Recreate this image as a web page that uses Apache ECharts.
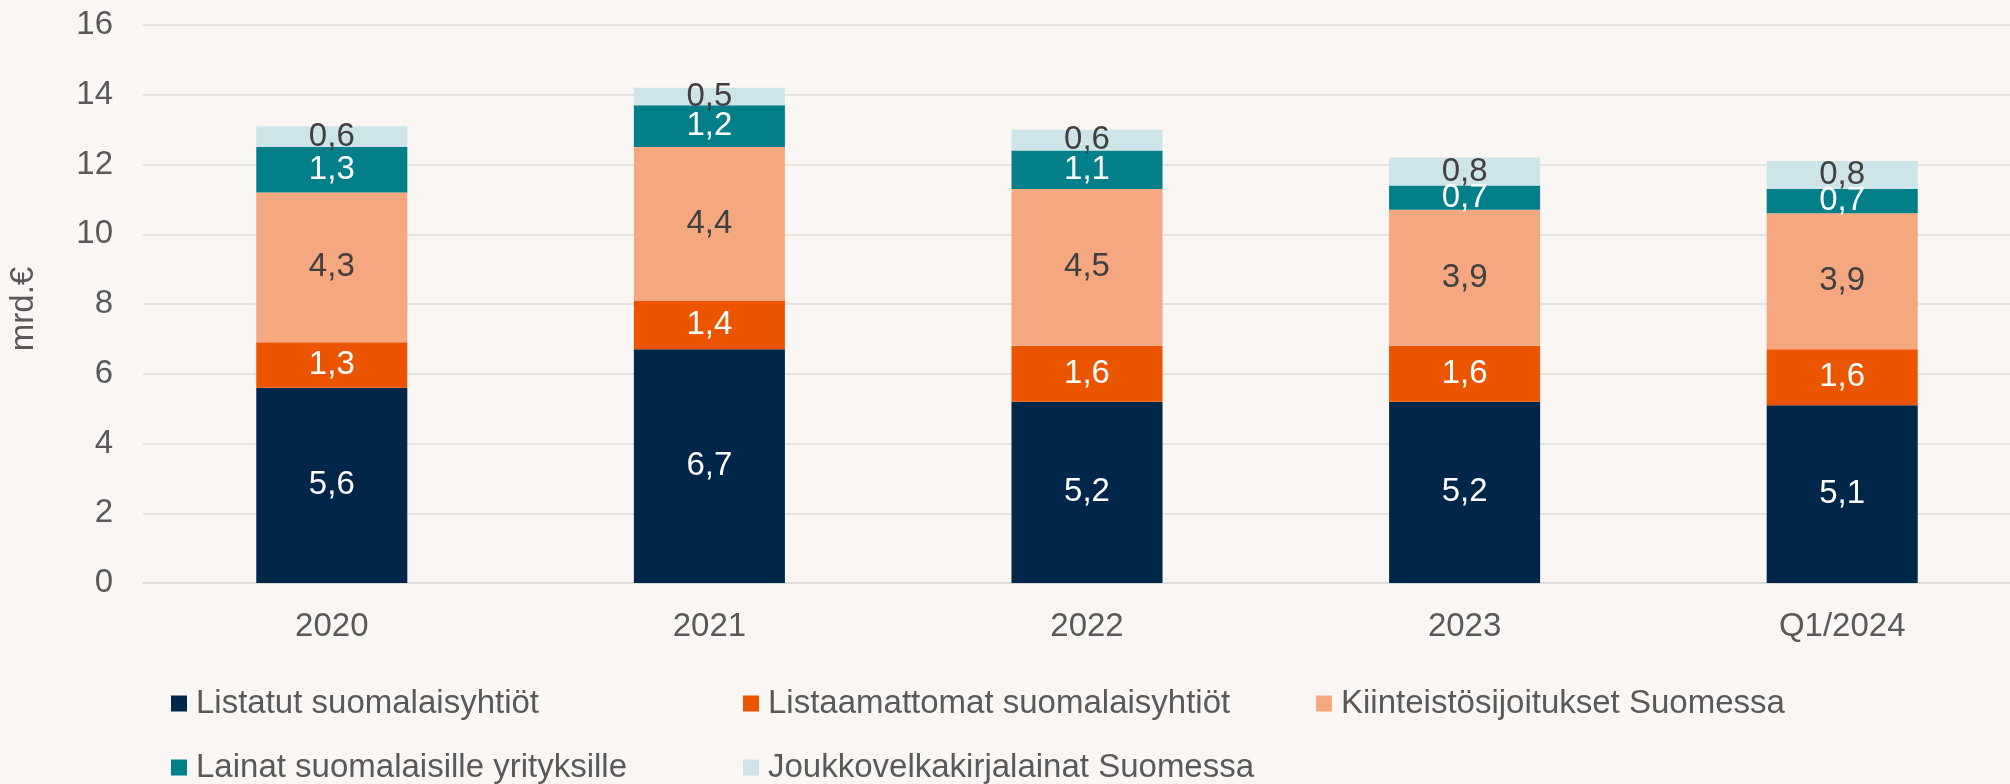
<!DOCTYPE html>
<html>
<head>
<meta charset="utf-8">
<script src="https://cdn.jsdelivr.net/npm/echarts@6/dist/echarts.min.js"></script>
<style>
  html, body { margin: 0; padding: 0; background: #FAF6F3; }
  #chart { width: 2010px; height: 784px; }
</style>
</head>
<body>
<div id="chart"></div>
<script>
// Categories (years) and the five stacked components, mrd. €
const categories = ['2020', '2021', '2022', '2023', 'Q1/2024'];
const listatut = [5.6, 6.7, 5.2, 5.2, 5.1];
const listaamattomat = [1.3, 1.4, 1.6, 1.6, 1.6];
const kiinteistot = [4.3, 4.4, 4.5, 3.9, 3.9];
const lainat = [1.3, 1.2, 1.1, 0.7, 0.7];
const joukkovelka = [0.6, 0.5, 0.6, 0.8, 0.8];

const seriesNames = [
  'Listatut suomalaisyhtiöt',
  'Listaamattomat suomalaisyhtiöt',
  'Kiinteistösijoitukset Suomessa',
  'Lainat suomalaisille yrityksille',
  'Joukkovelkakirjalainat Suomessa'
];
const seriesData = [listatut, listaamattomat, kiinteistot, lainat, joukkovelka];
const colors = ['#00264A', '#EB5500', '#F5A77F', '#037F8A', '#CDE4E8'];
const labelColors = ['#FFFFFF', '#FFFFFF', '#404040', '#FFFFFF', '#404040'];

const FONT = 'Liberation Sans, Arial, sans-serif';
const fmt = v => Number(v).toFixed(1).replace('.', ',');

const series = seriesNames.map((name, i) => ({
  name: name,
  type: 'bar',
  stack: 'total',
  barWidth: '40%',
  data: seriesData[i],
  itemStyle: { color: colors[i] },
  label: {
    show: true,
    position: 'inside',
    color: labelColors[i],
    fontFamily: FONT,
    fontSize: 33,
    formatter: p => fmt(p.value)
  },
  emphasis: { disabled: true }
}));

// One legend entry per slot: three columns, two rows
const legendSlots = [
  { left: 171, top: 687 },
  { left: 743, top: 687 },
  { left: 1316, top: 687 },
  { left: 171, top: 751 },
  { left: 743, top: 751 }
];
const legends = seriesNames.map((name, i) => ({
  left: legendSlots[i].left,
  top: legendSlots[i].top,
  padding: 0,
  icon: 'rect',
  itemWidth: 16,
  itemHeight: 16,
  selectedMode: false,
  data: [name],
  textStyle: { fontFamily: FONT, fontSize: 33, color: '#595959', lineHeight: 33, padding: [0, 0, 0, 4] }
}));

const chart = echarts.init(document.getElementById('chart'), null, { renderer: 'canvas' });
chart.setOption({
  backgroundColor: '#FAF6F3',
  animation: false,
  color: colors,
  grid: {
    left: 143,
    top: 25,
    bottom: 201,
    width: 1888,
    containLabel: false,
    outerBoundsMode: 'none'
  },
  legend: legends,
  xAxis: {
    type: 'category',
    data: categories,
    axisTick: { show: false },
    axisLine: { lineStyle: { color: '#D9D9D9', width: 1.5 } },
    axisLabel: { color: '#595959', fontFamily: FONT, fontSize: 33, margin: 27 }
  },
  yAxis: {
    type: 'value',
    min: 0,
    max: 16,
    interval: 2,
    name: 'mrd.€',
    nameLocation: 'middle',
    nameRotate: 90,
    nameGap: 103,
    nameTextStyle: { color: '#595959', fontFamily: FONT, fontSize: 33, padding: [0, 10, 0, 0] },
    axisLine: { show: false },
    axisTick: { show: false },
    axisLabel: { color: '#595959', fontFamily: FONT, fontSize: 33, margin: 30 },
    splitLine: { lineStyle: { color: '#DEDBD9', width: 1.5 } }
  },
  series: series
});
</script>
</body>
</html>
